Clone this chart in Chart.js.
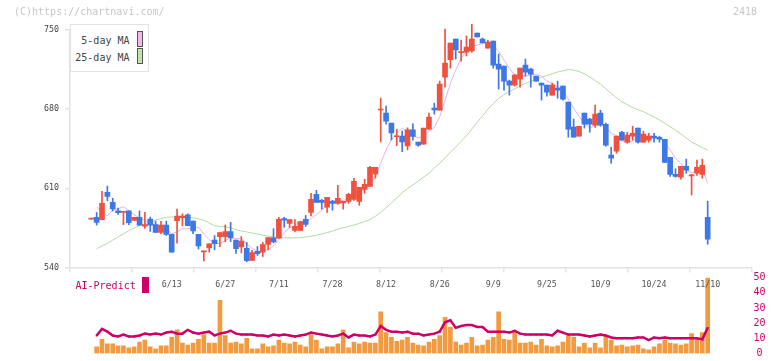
<!DOCTYPE html>
<html>
<head>
<meta charset="utf-8">
<script src="https://cdn.jsdelivr.net/npm/chart.js@4.4.0/dist/chart.umd.min.js"></script>
<style>
  body { margin: 0; background: #fff; }
  #wrap { position: relative; width: 772px; height: 361px; overflow: hidden; font-family: 'DejaVu Sans Mono', monospace; }
  canvas { position: absolute; left: 0; top: 0; }
  .txt { position: absolute; font-size: 10px; line-height: 12px; white-space: nowrap; }
  .sw { position: absolute; box-sizing: border-box; }
</style>
</head>
<body>
<div id="wrap">
  <canvas id="volChart" width="772" height="361"></canvas>
  <canvas id="priceChart" width="772" height="300"></canvas>

  <div class="txt" style="left:14px;top:6px;color:#c6c6c6">(C)https://chartnavi.com/</div>
  <div class="txt" style="right:15px;top:6px;color:#c6c6c6">2418</div>

  <div class="sw" style="left:70px;top:24px;width:79px;height:48px;border:1px solid #e2e2e2;background:#fff"></div>
  <div class="txt" style="left:70px;width:59.5px;text-align:right;top:35px;color:#444">5-day MA</div>
  <div class="sw" style="left:136.5px;top:31px;width:6.5px;height:15.5px;background:#f0b8ee;border:1px solid #555"></div>
  <div class="txt" style="left:70px;width:59.5px;text-align:right;top:51.5px;color:#444">25-day MA</div>
  <div class="sw" style="left:136.5px;top:48px;width:6.5px;height:15.5px;background:#bfe2ae;border:1px solid #555"></div>

  <div class="txt" style="left:75.5px;top:280px;color:#cc0066">AI-Predict</div>
  <div class="sw" style="left:142.3px;top:277.3px;width:6.4px;height:15.4px;background:#cc0066"></div>
</div>
<script>
// ローソク足 (四本値)
const opens = [
  582.8, 584.3, 582.4, 606.5, 597.6, 590, 588.8, 590, 581.6, 584.3,
  576.5, 582.8, 578, 571, 577.5, 569.3, 581.5, 584, 586.5, 581,
  569.3, 553.8, 557.3, 564.2, 567.3, 567.3, 571.7, 564.2, 558.3, 556.9,
  546.2, 554.2, 553.6, 560.3, 566.2, 565.9, 583.3, 578.9, 572.8, 572.8,
  582.5, 588.8, 604.7, 599.4, 593.4, 598.5, 596.7, 597, 598.5, 600.3,
  598.5, 609.1, 611.8, 622.7, 679.3, 676.5, 667.6, 655.6, 656.3, 647.5,
  661.7, 650.8, 649, 662.3, 681, 679.1, 708.4, 723.7, 742, 730,
  730.5, 731.4, 747.3, 742, 734, 740.3, 719.9, 718.1, 704.8, 701.3,
  706.6, 719, 715.4, 709.2, 703.1, 701.3, 692.4, 698.6, 700.4, 686.2,
  664.1, 656.1, 676.5, 671.2, 665.8, 676.5, 666.7, 639.3, 642.8, 659.6,
  650.8, 656.1, 663.2, 650.8, 652.5, 656.1, 655.2, 653.4, 637.5, 622.4,
  619.8, 629.5, 621, 623.3, 622.4, 584.3
];
const highs = [
  583.4, 588.7, 607.4, 612, 601.3, 592.5, 589.6, 590, 584.3, 590,
  588.7, 584.6, 581, 580.9, 581, 569.3, 591.6, 587.5, 587.5, 581,
  569.3, 554.6, 561, 568.3, 570.8, 577.6, 580, 564.2, 567.4, 562.2,
  555.1, 558.6, 562.2, 566.5, 574.3, 584.4, 584.4, 582.4, 582.4, 580.7,
  586, 605.6, 608.2, 600.3, 602.1, 599.4, 612.7, 598.5, 605.6, 618.9,
  610.9, 618, 629.5, 628.6, 689.8, 682.7, 667.6, 662.3, 660.7, 663.5,
  667, 650.8, 663.2, 676.5, 685.3, 704.8, 750.9, 738.5, 742, 741.1,
  744.7, 755, 747.3, 742.9, 741.1, 740.3, 728.7, 718.1, 705.7, 711,
  716.3, 724.3, 716.3, 709.2, 703.1, 701.3, 703.1, 704.8, 700.4, 686.2,
  671.2, 664.9, 676.5, 672, 683.6, 679.1, 667.6, 646.3, 656.1, 660.5,
  659.6, 664.9, 663.2, 660.5, 658.7, 658.7, 656.1, 653.4, 637.5, 627.3,
  629.5, 635.8, 622.4, 634.9, 635.8, 598.6
];
const lows = [
  582.8, 577.5, 582, 599, 589.9, 587, 577.9, 577.9, 581.6, 577.5,
  574.6, 571.9, 571, 570, 568.4, 553.6, 561.6, 576.9, 576.9, 570,
  556.3, 545.9, 553.6, 555.6, 558.4, 562.9, 562.9, 552.5, 553, 545,
  546.2, 550.6, 549.7, 555.8, 561.8, 565.9, 575.5, 575.5, 571.4, 572.8,
  576.3, 585.5, 597.6, 591.6, 588.7, 590.7, 595.8, 591.6, 596.7, 599.4,
  595, 605.6, 611.8, 619, 651, 666.7, 652.8, 647.8, 642.5, 644,
  652.5, 647.2, 649, 662.3, 675.6, 679.1, 699.5, 716.3, 724.3, 722.5,
  727, 730.5, 743.8, 738.5, 734, 716.3, 697.7, 696.8, 692.4, 700.4,
  699.5, 709.2, 699.5, 704.8, 688, 691.5, 692.4, 689.7, 688, 655.2,
  655.2, 656.1, 663.2, 659.6, 663.9, 664.9, 647.2, 632.2, 641, 652.5,
  649.9, 652.5, 649.9, 650.8, 650.8, 650.8, 650.8, 633, 620.6, 619.8,
  618, 623.3, 604.1, 621.5, 618.9, 560.6
];
const closes = [
  583.4, 579.9, 596.7, 602.9, 591.7, 588.5, 589.2, 579.6, 584.3, 577.5,
  578, 577.5, 571, 577.5, 569.3, 553.6, 585.5, 585.5, 576.9, 572.4,
  559, 554.2, 561, 561, 570.8, 571.7, 566.4, 556.6, 563.4, 546,
  553.3, 552.2, 560.3, 566.5, 562.7, 582.7, 581.9, 582.4, 576.3, 580.7,
  578, 600.3, 597.6, 597.6, 602.1, 596.7, 601.2, 598.5, 604.7, 616.2,
  610.9, 613.6, 628.6, 628.6, 679.7, 669.4, 659, 656.1, 651, 661.7,
  656, 648.1, 663.2, 673, 679.4, 702.2, 720.8, 738.5, 732.3, 730.5,
  734.9, 742, 743.8, 738.5, 739.4, 719, 715.4, 704.8, 701.3, 710.1,
  716.3, 712.8, 711, 704.8, 701.3, 695.1, 701.3, 696.8, 688.9, 662.3,
  655.2, 664.9, 666.7, 666.7, 675.6, 665.8, 648.1, 636.6, 656.1, 652.5,
  657, 658.7, 650.8, 657.9, 656.1, 654.3, 653.4, 633, 622.4, 620.6,
  629.5, 626, 621.5, 628.6, 630.4, 565.1
];

// 移動平均
const ma5 = [
  null, 593.5, 589, 585.5, 590.9, 591.9, 593.8, 590.4, 586.7, 583.8,
  581.7, 579.4, 577.7, 576.3, 574.7, 569.8, 571.4, 574.3, 574.2, 574.8,
  575.9, 569.6, 564.7, 561.5, 561.2, 563.7, 566.2, 565.3, 565.8, 560.7,
  557.0, 554.2, 554.9, 555.5, 559.0, 564.9, 570.8, 575.2, 577.2, 580.8,
  579.9, 583.5, 586.6, 590.8, 595.1, 598.9, 599.0, 599.2, 600.6, 603.5,
  606.3, 608.8, 614.8, 619.6, 632.3, 644.0, 653.1, 658.6, 663.0, 659.4,
  656.8, 654.6, 656.0, 660.4, 663.9, 673.2, 687.7, 702.8, 714.6, 724.9,
  731.4, 735.6, 736.7, 737.9, 739.7, 736.5, 731.2, 723.4, 716.0, 710.1,
  709.6, 709.1, 710.3, 711.0, 709.2, 705.0, 702.7, 699.9, 696.7, 688.9,
  680.9, 673.6, 667.6, 663.2, 665.8, 667.9, 664.6, 658.6, 656.4, 651.8,
  650.1, 652.2, 655.0, 655.4, 656.1, 655.6, 654.5, 650.9, 643.8, 636.7,
  631.8, 626.3, 624.0, 625.2, 627.2, 614.3
];
const ma25 = [
  null, 556.6, 559.0, 561.3, 564.2, 567.0, 569.8, 572.5, 575.0, 577.2,
  578.8, 580.2, 582.0, 583.2, 584.3, 584.7, 584.7, 584.6, 584.4, 584.0,
  583.0, 581.7, 579.3, 577.0, 576.3, 576.2, 575.0, 573.4, 572.3, 571.5,
  570.5, 569.6, 568.6, 567.7, 567.0, 566.5, 566.2, 566.2, 566.2, 566.4,
  566.9, 567.7, 568.5, 569.6, 570.8, 572.2, 573.8, 575.2, 576.3, 577.6,
  579.0, 580.6, 582.4, 585.3, 588.8, 592.8, 597.2, 601.5, 606.2, 609.8,
  613.0, 616.5, 620.0, 623.3, 628.0, 632.0, 637.0, 642.0, 646.5, 651.5,
  656.5, 662.5, 668.5, 674.0, 680.0, 685.0, 689.5, 692.8, 695.5, 698.0,
  700.5, 702.8, 704.7, 706.5, 708.2, 709.8, 711.3, 712.8, 714.0, 715.0,
  714.6, 713.2, 711.3, 708.5, 705.3, 702.0, 698.0, 694.0, 690.0, 686.5,
  684.0, 681.5, 679.5, 677.8, 675.5, 673.0, 670.5, 667.5, 664.5, 661.5,
  658.0, 654.5, 651.0, 648.5, 646.0, 643.7
];

// 出来高 と AI-Predict
const volume = [
  null, 4.4, 9.4, 6.3, 6.3, 5, 5, 3.8, 4.4, 7.5,
  8.8, 4.4, 3.1, 5, 5, 10.6, 15.6, 6.9, 5.6, 6.9,
  9.4, 12.5, 6.9, 6.9, 35, 11.9, 6.9, 7.5, 6.3, 10,
  3.1, 3.1, 6.3, 4.4, 5, 8.8, 6.9, 6.3, 7.5, 5.6,
  4.4, 12.5, 8.8, 3.1, 4.4, 4.4, 6.3, 15.6, 3.8, 7.5,
  6.3, 7.5, 6.9, 6.9, 27.5, 13.8, 10.6, 8.1, 8.8, 10.6,
  6.9, 5.6, 5, 7.5, 9.4, 11.9, 23.8, 17.5, 7.5, 5.6,
  6.9, 10.6, 5, 5.6, 8.8, 10.6, 27.5, 9.4, 8.8, 14.4,
  6.9, 6.9, 7.5, 5.6, 9.4, 5, 4.4, 5, 7.5, 11.9,
  10.6, 4.4, 6.9, 3.8, 6.9, 3.8, 11.3, 8.8, 5, 5.6,
  4.4, 5, 5.6, 3.1, 2.5, 4.4, 6.3, 8.8, 6.9, 6.3,
  5.6, 6.3, 13.1, 9.4, 13.8, 50
];
const aiPredict = [
  null, 11.9, 16.2, 14.4, 11.9, 11.2, 12.5, 11.2, 11.2, 11.9,
  13.1, 12.5, 13.1, 12.5, 13.8, 14.4, 13.1, 13.1, 15.6, 13.8,
  13.1, 13.8, 14.4, 11.9, 13.1, 13.8, 15, 13.1, 12.5, 12.5,
  12.5, 11.9, 11.9, 11.2, 12.5, 11.9, 12.5, 11.9, 11.2, 11.9,
  12.5, 13.8, 13.1, 12.5, 11.9, 11.2, 11.9, 13.1, 10.6, 12.5,
  11.9, 11.9, 11.2, 12.5, 18.1, 15.6, 14.4, 14.4, 13.8, 14.4,
  13.1, 13.1, 11.9, 12.5, 13.1, 14.4, 20.6, 21.9, 16.9, 18.1,
  18.8, 18.8, 17.5, 17.5, 14.4, 14.4, 14.4, 14.4, 13.8, 15,
  13.1, 12.5, 12.5, 12.5, 12.5, 12.5, 11.9, 15, 13.8, 12.5,
  12.5, 12.5, 11.9, 11.2, 11.9, 12.5, 11.9, 10.6, 10, 10,
  10, 10, 10.6, 10.6, 8.8, 10.6, 10, 10.6, 10, 10,
  10, 10, 10, 10, 9.4, 16.9
];

// 日付ラベル
const dateIdx = [15, 25, 35, 45, 55, 65, 75, 85, 95, 105, 115];
const dateLabels = ['6/13', '6/27', '7/11', '7/28', '8/12', '8/26', '9/9', '9/25', '10/9', '10/24', '11/10'];
const priceTicks = [540, 610, 680, 750];
const volTicks = [0, 10, 20, 30, 40, 50];

const xMin = -3.97, xMax = 123.27;
const monoFont = "'DejaVu Sans Mono', monospace";
const upColor = '#f0513f';
const downColor = '#3d78e6';
const axisColor = '#e2e2e2';

const idx = closes.map((c, i) => i);
const candleColors = idx.map(i => closes[i] >= opens[i] ? upColor : downColor);

function pts(arr) {
    return idx.map(i => ({ x: i, y: arr[i] }));
}

new Chart(document.getElementById('priceChart'), {
    type: 'bar',
    data: {
        datasets: [{
            label: 'body',
            data: idx.map(i => ({ x: i, y: [opens[i], closes[i]] })),
            backgroundColor: candleColors,
            barThickness: 5,
            minBarLength: 1,
            grouped: false,
            order: 0
        }, {
            label: 'wick',
            data: idx.map(i => ({ x: i, y: [lows[i], highs[i]] })),
            backgroundColor: candleColors,
            barThickness: 1,
            grouped: false,
            clip: false,
            order: 1
        }, {
            type: 'line',
            label: '5-day MA',
            data: pts(ma5),
            borderColor: '#e8b0ea',
            borderWidth: 1,
            pointRadius: 0,
            order: 2
        }, {
            type: 'line',
            label: '25-day MA',
            data: pts(ma25),
            borderColor: '#b3daa3',
            borderWidth: 1,
            pointRadius: 0,
            order: 3
        }]
    },
    options: {
        responsive: false,
        animation: false,
        layout: { padding: { top: 30, right: 20, left: 0, bottom: 0 } },
        plugins: { legend: { display: false }, tooltip: { enabled: false } },
        scales: {
            x: {
                type: 'linear',
                min: xMin,
                max: xMax,
                offset: false,
                position: 'bottom',
                grid: { drawOnChartArea: false, offset: false, color: axisColor, lineWidth: 1.5, tickLength: 5 },
                border: { color: axisColor, width: 1.5 },
                ticks: { display: false },
                afterBuildTicks: s => {
                    const step = (xMax - xMin) / 11;
                    s.ticks = Array.from({ length: 12 }, (v, k) => ({ value: xMin + k * step }));
                },
                afterFit: s => { s.height = 6; }
            },
            xd: {
                type: 'linear',
                min: xMin,
                max: xMax,
                offset: false,
                position: 'bottom',
                grid: { display: false, drawTicks: false },
                border: { display: false },
                ticks: {
                    autoSkip: false,
                    maxRotation: 0,
                    padding: 6,
                    color: '#555',
                    font: { family: monoFont, size: 8.3 },
                    callback: (v, i) => dateLabels[i]
                },
                afterBuildTicks: s => { s.ticks = dateIdx.map(v => ({ value: v })); },
                afterFit: s => { s.height = 26.5; }
            },
            y: {
                min: 540,
                max: 750,
                position: 'left',
                grid: { drawOnChartArea: false, color: axisColor, lineWidth: 1.5, tickLength: 5 },
                border: { color: axisColor, width: 1.5 },
                ticks: { padding: 6, color: '#444', font: { family: monoFont, size: 8.3 } },
                afterBuildTicks: s => { s.ticks = priceTicks.map(v => ({ value: v })); },
                afterFit: s => { s.width = 70; }
            }
        }
    }
});

new Chart(document.getElementById('volChart'), {
    type: 'bar',
    data: {
        datasets: [{
            type: 'line',
            label: 'AI-Predict',
            data: pts(aiPredict),
            borderColor: '#cc0066',
            borderWidth: 2.5,
            pointRadius: 1.3,
            pointStyle: 'rect',
            pointBackgroundColor: '#cc0066',
            pointBorderWidth: 0,
            order: 0
        }, {
            label: 'volume',
            data: pts(volume),
            backgroundColor: '#f29a40',
            barThickness: 4,
            grouped: false,
            order: 1
        }]
    },
    options: {
        responsive: false,
        animation: false,
        layout: { padding: { top: 277.7, bottom: 3.3, left: 70, right: 5 } },
        plugins: { legend: { display: false }, tooltip: { enabled: false } },
        scales: {
            x: { type: 'linear', min: xMin, max: xMax, offset: false, display: false },
            y: {
                position: 'right',
                min: 0,
                max: 50,
                grid: { display: false, drawTicks: false },
                border: { display: false },
                ticks: { padding: 1.5, crossAlign: 'center', color: '#cc0066', font: { family: monoFont, size: 10 } },
                afterBuildTicks: s => { s.ticks = volTicks.map(v => ({ value: v })); },
                afterFit: s => { s.width = 15; }
            }
        }
    }
});
</script>
</body>
</html>
